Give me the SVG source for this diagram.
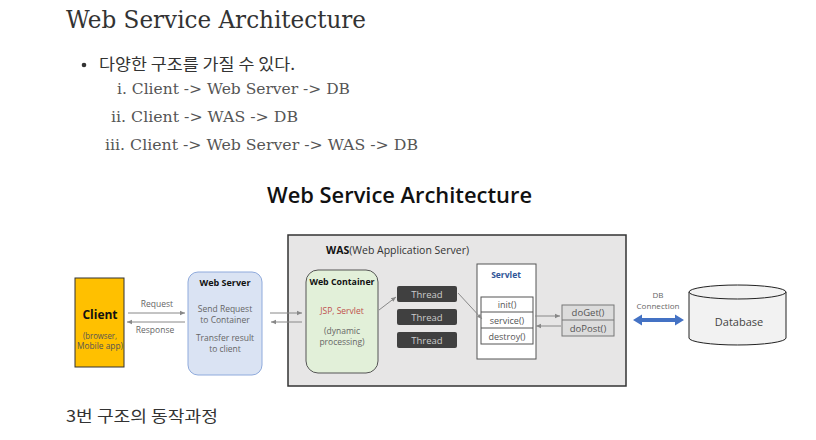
<svg xmlns="http://www.w3.org/2000/svg" width="816" height="440" viewBox="0 0 816 440">
<defs>
<style>
.serif{font-family:"DejaVu Serif","Liberation Serif",serif;fill:#333}
.list{font-family:"DejaVu Serif","Liberation Serif",serif;fill:#555;font-size:15px}
.kr{font-family:"Noto Sans CJK KR","Noto Sans",sans-serif;fill:#333}
.s{font-family:"Open Sans","Noto Sans",sans-serif}
.lbl{font-family:"Open Sans","Noto Sans",sans-serif;font-size:8.5px;fill:#666;text-anchor:middle}
.bold{font-weight:bold;fill:#111;text-anchor:middle}
.ln{stroke:#888;stroke-width:1;fill:none}
</style>
<marker id="ah" markerWidth="6" markerHeight="6" refX="5" refY="3" orient="auto" markerUnits="userSpaceOnUse">
<path d="M0,0.8 L5,3 L0,5.2 z" fill="#888"/>
</marker>
</defs>
<rect width="816" height="440" fill="#fff"/>

<text class="serif" x="66" y="28" font-size="24" textLength="300" lengthAdjust="spacingAndGlyphs">Web Service Architecture</text>
<circle cx="84" cy="65" r="2.3" fill="#333"/>
<text class="kr" x="99" y="70" font-size="16" textLength="196" lengthAdjust="spacingAndGlyphs">다양한 구조를 가질 수 있다.</text>
<text class="list" x="117" y="94" textLength="233" lengthAdjust="spacingAndGlyphs">i. Client -&gt; Web Server -&gt; DB</text>
<text class="list" x="111" y="122" textLength="187" lengthAdjust="spacingAndGlyphs">ii. Client -&gt; WAS -&gt; DB</text>
<text class="list" x="105" y="150" textLength="313" lengthAdjust="spacingAndGlyphs">iii. Client -&gt; Web Server -&gt; WAS -&gt; DB</text>

<text class="s" x="267" y="203" font-size="22" font-weight="600" fill="#111" textLength="265" lengthAdjust="spacingAndGlyphs">Web Service Architecture</text>

<g id="was">
<rect x="288" y="235" width="338" height="151" fill="#E7E6E6" stroke="#333" stroke-width="1.5"/>
<text class="s" x="326" y="254" font-size="10.5" fill="#333"><tspan font-weight="bold" fill="#111">WAS</tspan>(Web Application Server)</text>
</g>

<g id="client">
<rect x="75" y="278" width="49" height="89" fill="#FFC000" stroke="#333" stroke-width="1"/>
<text class="s bold" x="100" y="319" font-size="12">Client</text>
<text class="lbl" x="100" y="339" style="font-size:8.5px;fill:#555" textLength="34" lengthAdjust="spacingAndGlyphs">(browser,</text>
<text class="lbl" x="100" y="349" style="font-size:8.5px;fill:#555" textLength="46" lengthAdjust="spacingAndGlyphs">Mobile app)</text>
</g>

<g id="webserver">
<rect x="188" y="272" width="74" height="103" rx="10" fill="#DAE3F3" stroke="#8FAADC"/>
<text class="s bold" x="225" y="286" font-size="9">Web Server</text>
<text class="lbl" x="225" y="312">Send Request</text>
<text class="lbl" x="225" y="322.5">to Container</text>
<text class="lbl" x="225" y="341">Transfer result</text>
<text class="lbl" x="225" y="351.5">to client</text>
</g>

<g id="webcontainer">
<rect x="306" y="270" width="72" height="103" rx="12" fill="#E2F0D9" stroke="#555"/>
<text class="s bold" x="342" y="285" font-size="8.8">Web Container</text>
<text class="lbl" x="342" y="314" style="fill:#C0504D">JSP, Servlet</text>
<text class="lbl" x="342" y="334">(dynamic</text>
<text class="lbl" x="342" y="344.5">processing)</text>
</g>

<g id="threads" class="s">
<rect x="397" y="286" width="60" height="16" rx="2" fill="#404040"/>
<rect x="397" y="309" width="60" height="16" rx="2" fill="#404040"/>
<rect x="397" y="332" width="60" height="16" rx="2" fill="#404040"/>
<text x="427" y="298" font-size="9.5" fill="#ccc" text-anchor="middle">Thread</text>
<text x="427" y="321" font-size="9.5" fill="#ccc" text-anchor="middle">Thread</text>
<text x="427" y="344" font-size="9.5" fill="#ccc" text-anchor="middle">Thread</text>
</g>

<g id="servlet">
<rect x="477" y="264" width="59" height="95" fill="#fff" stroke="#555"/>
<text class="s" x="506" y="278" font-size="8.5" font-weight="bold" fill="#2F5597" text-anchor="middle">Servlet</text>
<rect x="481" y="297" width="52" height="47" fill="#fff" stroke="#555"/>
<line x1="481" y1="312" x2="533" y2="312" stroke="#555"/>
<line x1="481" y1="328" x2="533" y2="328" stroke="#555"/>
<text class="lbl" x="507" y="308" style="font-size:9px;fill:#555">init()</text>
<text class="lbl" x="507" y="324" style="font-size:9px;fill:#555">service()</text>
<text class="lbl" x="507" y="340" style="font-size:9px;fill:#555">destroy()</text>
</g>

<g id="methods">
<rect x="562" y="305" width="52" height="31" fill="#DCDCDC" stroke="#777"/>
<line x1="562" y1="320" x2="614" y2="320" stroke="#777"/>
<text class="lbl" x="588" y="316" style="font-size:9.5px;fill:#555">doGet()</text>
<text class="lbl" x="588" y="332" style="font-size:9.5px;fill:#555">doPost()</text>
</g>

<g id="database">
<path d="M689,292 L689,338 A48.5,7 0 0 0 786,338 L786,292" fill="#F2F2F2" stroke="#222"/>
<ellipse cx="737.5" cy="292" rx="48.5" ry="7" fill="#F2F2F2" stroke="#222"/>
<text class="s" x="739" y="326" font-size="11" fill="#444" text-anchor="middle">Database</text>
</g>

<g id="connectors">
<line class="ln" x1="128" y1="313" x2="185" y2="313" marker-end="url(#ah)"/>
<line class="ln" x1="185" y1="322" x2="127" y2="322" marker-end="url(#ah)"/>
<text class="lbl" x="157" y="307">Request</text>
<text class="lbl" x="155" y="333">Response</text>
<line class="ln" x1="270" y1="313" x2="302" y2="313" marker-end="url(#ah)"/>
<line class="ln" x1="302" y1="322" x2="271" y2="322" marker-end="url(#ah)"/>
<line class="ln" x1="379" y1="310" x2="396" y2="297" marker-end="url(#ah)"/>
<line class="ln" x1="458" y1="293" x2="482" y2="319" marker-end="url(#ah)"/>
<line class="ln" x1="535" y1="316" x2="560" y2="316" marker-end="url(#ah)"/>
<line class="ln" x1="561" y1="326" x2="536" y2="326" marker-end="url(#ah)"/>
<text class="lbl" x="658" y="298" style="font-size:8px">DB</text>
<text class="lbl" x="658" y="309" style="font-size:8px" textLength="43" lengthAdjust="spacingAndGlyphs">Connection</text>
<path d="M633,320 L642,314.5 L642,318 L675,318 L675,314.5 L684,320 L675,325.5 L675,322 L642,322 L642,325.5 z" fill="#4472C4"/>
</g>

<text class="kr" x="66" y="422" font-size="16" textLength="152" lengthAdjust="spacingAndGlyphs">3번 구조의 동작과정</text>
</svg>
